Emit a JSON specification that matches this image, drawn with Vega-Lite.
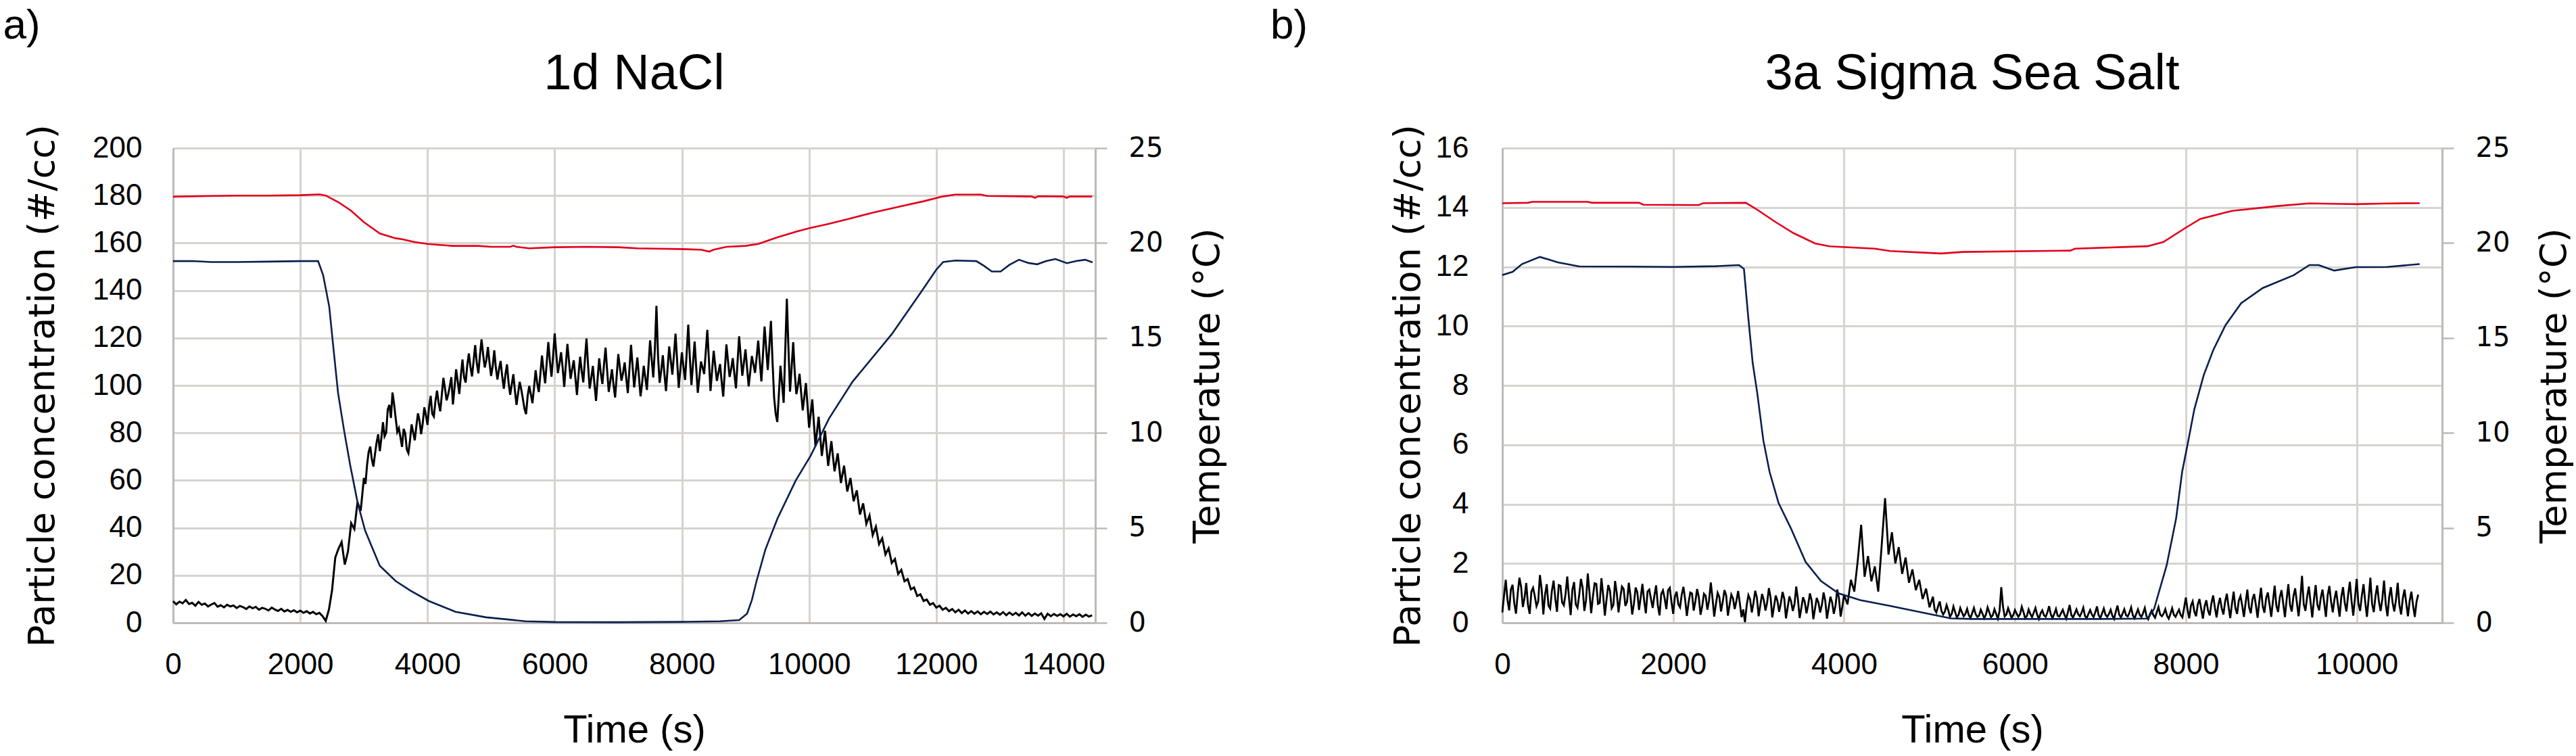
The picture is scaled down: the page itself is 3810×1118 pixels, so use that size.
{
  "$schema": "https://vega.github.io/schema/vega-lite/v6.json",
  "background": "white",
  "padding": {"left": 4, "top": 6, "right": 4, "bottom": 4},
  "spacing": 65,
  "config": {
    "view": {"stroke": null},
    "font": "Liberation Sans",
    "title": {"font": "Liberation Sans", "fontWeight": "normal", "color": "black"},
    "axis": {
      "labelFont": "Liberation Sans",
      "labelColor": "black",
      "titleFont": "Liberation Sans",
      "titleFontWeight": "normal",
      "titleColor": "black",
      "gridColor": "#d6d3d0",
      "gridWidth": 3,
      "domainColor": "#bdbab7",
      "domainWidth": 3,
      "tickColor": "#bdbab7",
      "tickWidth": 2.5
    }
  },
  "datasets": {
    "aP": [
      {"t":0,"c":9.1},{"t":50,"c":7.8},{"t":100,"c":8.9},{"t":150,"c":8.2},{"t":200,"c":9.6},{"t":250,"c":7.9},{"t":300,"c":8.4},{"t":350,"c":7.2},{"t":400,"c":8.8},{"t":450,"c":7.6},
      {"t":500,"c":8.1},{"t":550,"c":6.9},{"t":600,"c":7.7},{"t":650,"c":8.3},{"t":700,"c":6.8},{"t":750,"c":7.4},{"t":800,"c":6.5},{"t":850,"c":7.6},{"t":900,"c":6.9},{"t":950,"c":7.3},
      {"t":1000,"c":6.2},{"t":1050,"c":7.1},{"t":1100,"c":6.6},{"t":1150,"c":5.8},{"t":1200,"c":6.9},{"t":1250,"c":6.1},{"t":1300,"c":6.7},{"t":1350,"c":5.5},{"t":1400,"c":6.3},{"t":1450,"c":5.9},
      {"t":1500,"c":5.2},{"t":1550,"c":6.4},{"t":1600,"c":5.6},{"t":1650,"c":5.0},{"t":1700,"c":5.9},{"t":1750,"c":4.8},{"t":1800,"c":5.4},{"t":1850,"c":4.6},{"t":1900,"c":5.3},{"t":1950,"c":4.4},
      {"t":2000,"c":5.1},{"t":2050,"c":4.2},{"t":2100,"c":4.9},{"t":2150,"c":3.9},{"t":2200,"c":4.6},{"t":2250,"c":3.6},{"t":2300,"c":4.2},{"t":2350,"c":2.8},{"t":2400,"c":0.8},{"t":2450,"c":5.5},
      {"t":2500,"c":13.8},{"t":2550,"c":27.5},{"t":2600,"c":31.2},{"t":2650,"c":34.0},{"t":2700,"c":24.5},{"t":2750,"c":30.1},{"t":2800,"c":42.0},{"t":2850,"c":39.5},{"t":2900,"c":50.8},{"t":2950,"c":47.2},
      {"t":3000,"c":61.0},{"t":3050,"c":66.5},{"t":3100,"c":74.2},{"t":3150,"c":65.8},{"t":3200,"c":76.0},{"t":3250,"c":72.3},{"t":3300,"c":84.5},{"t":3350,"c":80.1},{"t":3400,"c":91.8},{"t":3450,"c":97.0},
      {"t":3500,"c":86.2},{"t":3550,"c":82.0},{"t":3600,"c":74.1},{"t":3650,"c":79.8},{"t":3700,"c":71.5},{"t":3750,"c":83.6},{"t":3800,"c":76.9},{"t":3850,"c":88.2},{"t":3900,"c":79.5},{"t":3950,"c":90.8},
      {"t":4000,"c":83.4},{"t":4050,"c":95.6},{"t":4100,"c":86.9},{"t":4150,"c":97.8},{"t":4200,"c":89.1},{"t":4250,"c":103.2},{"t":4300,"c":93.7},{"t":4350,"c":99.5},{"t":4400,"c":92.0},{"t":4450,"c":106.8},
      {"t":4500,"c":96.4},{"t":4550,"c":110.9},{"t":4600,"c":101.2},{"t":4650,"c":113.5},{"t":4700,"c":103.8},{"t":4750,"c":117.0},{"t":4800,"c":105.1},{"t":4850,"c":119.4},{"t":4900,"c":107.6},{"t":4950,"c":116.2},
      {"t":5000,"c":104.0},{"t":5050,"c":114.8},{"t":5100,"c":102.5},{"t":5150,"c":110.3},{"t":5200,"c":98.6},{"t":5250,"c":108.9},{"t":5300,"c":96.1},{"t":5350,"c":104.7},{"t":5400,"c":91.8},{"t":5450,"c":101.5},
      {"t":5500,"c":94.3},{"t":5550,"c":87.9},{"t":5600,"c":99.8},{"t":5650,"c":92.5},{"t":5700,"c":106.4},{"t":5750,"c":97.2},{"t":5800,"c":112.6},{"t":5850,"c":100.9},{"t":5900,"c":118.3},{"t":5950,"c":103.7},
      {"t":6000,"c":121.9},{"t":6050,"c":105.2},{"t":6100,"c":114.0},{"t":6150,"c":99.4},{"t":6200,"c":117.5},{"t":6250,"c":102.8},{"t":6300,"c":110.6},{"t":6350,"c":96.0},{"t":6400,"c":112.1},{"t":6450,"c":101.3},
      {"t":6500,"c":119.8},{"t":6550,"c":98.7},{"t":6600,"c":108.2},{"t":6650,"c":93.5},{"t":6700,"c":111.4},{"t":6750,"c":100.6},{"t":6800,"c":115.9},{"t":6850,"c":97.3},{"t":6900,"c":106.8},{"t":6950,"c":94.9},
      {"t":7000,"c":113.2},{"t":7050,"c":102.0},{"t":7100,"c":109.7},{"t":7150,"c":96.8},{"t":7200,"c":117.1},{"t":7250,"c":99.2},{"t":7300,"c":111.8},{"t":7350,"c":95.4},{"t":7400,"c":108.3},{"t":7450,"c":98.1},
      {"t":7500,"c":119.0},{"t":7550,"c":103.4},{"t":7600,"c":133.5},{"t":7650,"c":101.1},{"t":7700,"c":112.7},{"t":7750,"c":97.6},{"t":7800,"c":116.4},{"t":7850,"c":104.5},{"t":7900,"c":121.8},{"t":7950,"c":99.0},
      {"t":8000,"c":113.9},{"t":8050,"c":102.3},{"t":8100,"c":125.6},{"t":8150,"c":100.2},{"t":8200,"c":118.5},{"t":8250,"c":96.9},{"t":8300,"c":110.1},{"t":8350,"c":104.8},{"t":8400,"c":123.4},{"t":8450,"c":97.7},
      {"t":8500,"c":114.6},{"t":8550,"c":101.9},{"t":8600,"c":109.0},{"t":8650,"c":95.3},{"t":8700,"c":117.3},{"t":8750,"c":103.6},{"t":8800,"c":111.5},{"t":8850,"c":98.8},{"t":8900,"c":120.7},{"t":8950,"c":104.1},
      {"t":9000,"c":115.2},{"t":9050,"c":99.6},{"t":9100,"c":112.4},{"t":9150,"c":105.3},{"t":9200,"c":118.9},{"t":9250,"c":101.7},{"t":9300,"c":124.8},{"t":9350,"c":106.5},{"t":9400,"c":127.2},{"t":9450,"c":95.0},
      {"t":9500,"c":84.6},{"t":9550,"c":108.3},{"t":9600,"c":92.7},{"t":9650,"c":136.5},{"t":9700,"c":97.4},{"t":9750,"c":118.2},{"t":9800,"c":96.3},{"t":9850,"c":104.9},{"t":9900,"c":89.5},{"t":9950,"c":101.0},
      {"t":10000,"c":82.2},{"t":10050,"c":94.1},{"t":10100,"c":74.5},{"t":10150,"c":86.8},{"t":10200,"c":70.3},{"t":10250,"c":80.9},{"t":10300,"c":66.1},{"t":10350,"c":76.5},{"t":10400,"c":63.8},{"t":10450,"c":71.4},
      {"t":10500,"c":58.9},{"t":10550,"c":66.2},{"t":10600,"c":55.3},{"t":10650,"c":61.0},{"t":10700,"c":51.2},{"t":10750,"c":55.8},{"t":10800,"c":45.6},{"t":10850,"c":50.3},{"t":10900,"c":41.7},{"t":10950,"c":45.2},
      {"t":11000,"c":36.9},{"t":11050,"c":40.5},{"t":11100,"c":33.1},{"t":11150,"c":35.6},{"t":11200,"c":28.8},{"t":11250,"c":31.4},{"t":11300,"c":25.2},{"t":11350,"c":26.9},{"t":11400,"c":20.6},{"t":11450,"c":22.3},
      {"t":11500,"c":17.5},{"t":11550,"c":18.4},{"t":11600,"c":14.1},{"t":11650,"c":14.9},{"t":11700,"c":11.3},{"t":11750,"c":12.0},{"t":11800,"c":9.2},{"t":11850,"c":9.8},{"t":11900,"c":7.6},{"t":11950,"c":8.3},
      {"t":12000,"c":6.4},{"t":12050,"c":7.2},{"t":12100,"c":5.5},{"t":12150,"c":6.3},{"t":12200,"c":4.9},{"t":12250,"c":5.8},{"t":12300,"c":4.4},{"t":12350,"c":5.5},{"t":12400,"c":4.1},{"t":12450,"c":5.2},
      {"t":12500,"c":3.9},{"t":12550,"c":4.9},{"t":12600,"c":3.8},{"t":12650,"c":4.8},{"t":12700,"c":3.6},{"t":12750,"c":4.6},{"t":12800,"c":3.7},{"t":12850,"c":4.7},{"t":12900,"c":3.5},{"t":12950,"c":4.4},
      {"t":13000,"c":3.4},{"t":13050,"c":4.5},{"t":13100,"c":3.2},{"t":13150,"c":4.3},{"t":13200,"c":3.3},{"t":13250,"c":4.2},{"t":13300,"c":3.1},{"t":13350,"c":4.4},{"t":13400,"c":3.0},{"t":13450,"c":4.1},
      {"t":13500,"c":2.9},{"t":13550,"c":3.9},{"t":13600,"c":3.0},{"t":13650,"c":4.0},{"t":13700,"c":1.6},{"t":13750,"c":3.8},{"t":13800,"c":2.8},{"t":13850,"c":3.7},{"t":13900,"c":2.9},{"t":13950,"c":3.6},
      {"t":14000,"c":2.7},{"t":14050,"c":3.8},{"t":14100,"c":2.6},{"t":14150,"c":3.5},{"t":14200,"c":2.8},{"t":14250,"c":3.6},{"t":14300,"c":2.5},{"t":14350,"c":3.4},{"t":14400,"c":2.6},{"t":14450,"c":3.2},
      {"t":3025,"c":58.5},{"t":3075,"c":72.0},{"t":3125,"c":68.9},{"t":3175,"c":71.2},{"t":3225,"c":79.4},{"t":3275,"c":77.8},{"t":3325,"c":78.6},{"t":3375,"c":89.9},{"t":3425,"c":86.3},{"t":3475,"c":92.1},
      {"t":3525,"c":80.4},{"t":3575,"c":78.2},{"t":3625,"c":81.7},{"t":3675,"c":73.0},{"t":3725,"c":76.8},{"t":3775,"c":80.2},{"t":3825,"c":82.9},{"t":3875,"c":85.1},{"t":3925,"c":84.0},{"t":3975,"c":87.5},
      {"t":4025,"c":90.9},{"t":4075,"c":88.0},{"t":4125,"c":93.3},{"t":4175,"c":92.6},{"t":4225,"c":96.0},{"t":4275,"c":98.7},{"t":4325,"c":96.2},{"t":4375,"c":103.5},{"t":4425,"c":99.0},{"t":4475,"c":101.8},
      {"t":4525,"c":104.2},{"t":4575,"c":103.5},{"t":4625,"c":108.4},{"t":4675,"c":107.9},{"t":4725,"c":110.3},{"t":4775,"c":109.5},{"t":4825,"c":112.8},{"t":4875,"c":113.0},{"t":4925,"c":110.6},{"t":4975,"c":109.7},
      {"t":5025,"c":108.1},{"t":5075,"c":107.4},{"t":5125,"c":106.9},{"t":5175,"c":103.8},{"t":5225,"c":104.5},{"t":5275,"c":101.2},{"t":5325,"c":100.4},{"t":5375,"c":97.6},{"t":5425,"c":96.8},{"t":5475,"c":98.2},
      {"t":5525,"c":90.2},{"t":5575,"c":95.6},{"t":5625,"c":96.3},{"t":5675,"c":99.1},{"t":5725,"c":101.0},{"t":5775,"c":104.8},{"t":5825,"c":106.2},{"t":5875,"c":109.6},{"t":5925,"c":110.1},{"t":5975,"c":112.4},
      {"t":6025,"c":113.3},{"t":6075,"c":109.1},{"t":6125,"c":107.5},{"t":6175,"c":108.6},{"t":6225,"c":110.2},{"t":6275,"c":106.9},{"t":6325,"c":103.4},{"t":6375,"c":104.7},{"t":6425,"c":106.0},{"t":6475,"c":110.8},
      {"t":6525,"c":108.4},{"t":6575,"c":103.1},{"t":6625,"c":100.6},{"t":6675,"c":102.9},{"t":6725,"c":105.2},{"t":6775,"c":108.7},{"t":6825,"c":106.1},{"t":6875,"c":101.9},{"t":6925,"c":100.3},{"t":6975,"c":104.0},
      {"t":7025,"c":107.6},{"t":7075,"c":105.3},{"t":7125,"c":103.0},{"t":7175,"c":106.8},{"t":7225,"c":108.0},{"t":7275,"c":105.5},{"t":7325,"c":103.6},{"t":7375,"c":101.1},{"t":7425,"c":103.2},{"t":7475,"c":108.5},
      {"t":7525,"c":111.0},{"t":7575,"c":115.2},{"t":7625,"c":112.3},{"t":7675,"c":106.2},{"t":7725,"c":104.8},{"t":7775,"c":107.0},{"t":7825,"c":110.5},{"t":7875,"c":112.9},{"t":7925,"c":110.4},{"t":7975,"c":106.5},
      {"t":8025,"c":107.8},{"t":8075,"c":113.4},{"t":8125,"c":111.7},{"t":8175,"c":109.3},{"t":8225,"c":107.6},{"t":8275,"c":103.4},{"t":8325,"c":107.5},{"t":8375,"c":114.0},{"t":8425,"c":110.6},{"t":8475,"c":106.3},
      {"t":8525,"c":108.2},{"t":8575,"c":105.5},{"t":8625,"c":101.7},{"t":8675,"c":106.4},{"t":8725,"c":110.3},{"t":8775,"c":107.0},{"t":8825,"c":104.9},{"t":8875,"c":109.8},{"t":8925,"c":112.1},{"t":8975,"c":109.6},
      {"t":9025,"c":107.3},{"t":9075,"c":105.8},{"t":9125,"c":108.9},{"t":9175,"c":111.8},{"t":9225,"c":110.0},{"t":9275,"c":113.2},{"t":9325,"c":115.7},{"t":9375,"c":116.8},{"t":9425,"c":110.1},{"t":9475,"c":88.0},
      {"t":9525,"c":96.4},{"t":9575,"c":100.5},{"t":9625,"c":114.8},{"t":9675,"c":116.0},{"t":9725,"c":107.5},{"t":9775,"c":105.2},{"t":9825,"c":100.1},{"t":9875,"c":97.0},{"t":9925,"c":95.2},{"t":9975,"c":91.6}
    ],
    "aT": [
      {"s":"air","t":0,"T":22.44},{"s":"air","t":500,"T":22.47},{"s":"air","t":1000,"T":22.5},{"s":"air","t":1500,"T":22.5},{"s":"air","t":2000,"T":22.52},{"s":"air","t":2300,"T":22.56},
      {"s":"air","t":2400,"T":22.5},{"s":"air","t":2600,"T":22.15},{"s":"air","t":2800,"T":21.7},{"s":"air","t":3000,"T":21.1},{"s":"air","t":3250,"T":20.5},{"s":"air","t":3500,"T":20.25},
      {"s":"air","t":3600,"T":20.2},{"s":"air","t":3800,"T":20.05},{"s":"air","t":4000,"T":19.95},{"s":"air","t":4200,"T":19.9},{"s":"air","t":4400,"T":19.85},{"s":"air","t":4800,"T":19.85},
      {"s":"air","t":5000,"T":19.8},{"s":"air","t":5300,"T":19.8},{"s":"air","t":5350,"T":19.86},{"s":"air","t":5400,"T":19.8},{"s":"air","t":5600,"T":19.72},{"s":"air","t":6000,"T":19.78},
      {"s":"air","t":6500,"T":19.8},{"s":"air","t":7000,"T":19.78},{"s":"air","t":7300,"T":19.72},{"s":"air","t":7600,"T":19.7},{"s":"air","t":8000,"T":19.68},{"s":"air","t":8300,"T":19.65},
      {"s":"air","t":8430,"T":19.55},{"s":"air","t":8500,"T":19.65},{"s":"air","t":8700,"T":19.8},{"s":"air","t":9000,"T":19.85},{"s":"air","t":9200,"T":19.95},{"s":"air","t":9500,"T":20.3},
      {"s":"air","t":9800,"T":20.6},{"s":"air","t":10000,"T":20.78},{"s":"air","t":10300,"T":21.0},{"s":"air","t":10600,"T":21.25},{"s":"air","t":11000,"T":21.6},{"s":"air","t":11400,"T":21.9},
      {"s":"air","t":11800,"T":22.2},{"s":"air","t":12100,"T":22.45},{"s":"air","t":12300,"T":22.55},{"s":"air","t":12700,"T":22.55},{"s":"air","t":12800,"T":22.48},{"s":"air","t":13500,"T":22.45},
      {"s":"air","t":13550,"T":22.38},{"s":"air","t":13600,"T":22.46},{"s":"air","t":14000,"T":22.45},{"s":"air","t":14050,"T":22.38},{"s":"air","t":14100,"T":22.45},{"s":"air","t":14450,"T":22.45},
      {"s":"cold","t":0,"T":19.05},{"s":"cold","t":300,"T":19.05},{"s":"cold","t":600,"T":19.0},{"s":"cold","t":1000,"T":19.0},{"s":"cold","t":1500,"T":19.02},{"s":"cold","t":2000,"T":19.05},
      {"s":"cold","t":2280,"T":19.05},{"s":"cold","t":2360,"T":18.3},{"s":"cold","t":2455,"T":16.65},{"s":"cold","t":2520,"T":14.5},{"s":"cold","t":2594,"T":12.1},{"s":"cold","t":2690,"T":10.1},
      {"s":"cold","t":2785,"T":8.3},{"s":"cold","t":2903,"T":6.3},{"s":"cold","t":3020,"T":4.85},{"s":"cold","t":3250,"T":3.0},{"s":"cold","t":3500,"T":2.2},{"s":"cold","t":3730,"T":1.7},
      {"s":"cold","t":4020,"T":1.15},{"s":"cold","t":4440,"T":0.58},{"s":"cold","t":4920,"T":0.29},{"s":"cold","t":5540,"T":0.08},{"s":"cold","t":6000,"T":0.04},{"s":"cold","t":7000,"T":0.03},
      {"s":"cold","t":8000,"T":0.05},{"s":"cold","t":8600,"T":0.08},{"s":"cold","t":8900,"T":0.14},{"s":"cold","t":9025,"T":0.48},{"s":"cold","t":9100,"T":1.2},{"s":"cold","t":9174,"T":2.2},
      {"s":"cold","t":9312,"T":3.85},{"s":"cold","t":9504,"T":5.5},{"s":"cold","t":9791,"T":7.5},{"s":"cold","t":10025,"T":8.8},{"s":"cold","t":10312,"T":10.75},{"s":"cold","t":10684,"T":12.7},
      {"s":"cold","t":11300,"T":15.2},{"s":"cold","t":11778,"T":17.5},{"s":"cold","t":12000,"T":18.6},{"s":"cold","t":12108,"T":19.0},{"s":"cold","t":12300,"T":19.08},{"s":"cold","t":12629,"T":19.05},
      {"s":"cold","t":12750,"T":18.8},{"s":"cold","t":12873,"T":18.5},{"s":"cold","t":13012,"T":18.5},{"s":"cold","t":13150,"T":18.85},{"s":"cold","t":13299,"T":19.12},{"s":"cold","t":13450,"T":18.95},
      {"s":"cold","t":13586,"T":18.88},{"s":"cold","t":13730,"T":19.05},{"s":"cold","t":13873,"T":19.16},{"s":"cold","t":14054,"T":18.94},{"s":"cold","t":14200,"T":19.05},{"s":"cold","t":14340,"T":19.12},
      {"s":"cold","t":14457,"T":18.98}
    ],
    "bP": [
      {"t":0,"c":0.35},{"t":40,"c":1.45},{"t":80,"c":0.42},{"t":120,"c":1.28},{"t":160,"c":0.31},{"t":200,"c":1.52},{"t":240,"c":0.53},{"t":280,"c":1.34},{"t":320,"c":0.3},{"t":360,"c":1.18},
      {"t":400,"c":0.56},{"t":440,"c":1.61},{"t":480,"c":0.28},{"t":520,"c":1.3},{"t":560,"c":0.48},{"t":600,"c":1.42},{"t":640,"c":0.37},{"t":680,"c":1.25},{"t":720,"c":0.59},{"t":760,"c":1.56},
      {"t":800,"c":0.26},{"t":840,"c":1.37},{"t":880,"c":0.51},{"t":920,"c":1.48},{"t":960,"c":0.4},{"t":1000,"c":1.66},{"t":1040,"c":0.32},{"t":1080,"c":1.33},{"t":1120,"c":0.64},{"t":1160,"c":1.5},
      {"t":1200,"c":0.24},{"t":1240,"c":1.27},{"t":1280,"c":0.49},{"t":1320,"c":1.41},{"t":1360,"c":0.35},{"t":1400,"c":1.22},{"t":1440,"c":0.57},{"t":1480,"c":1.35},{"t":1520,"c":0.28},{"t":1560,"c":1.19},
      {"t":1600,"c":0.43},{"t":1640,"c":1.31},{"t":1680,"c":0.32},{"t":1720,"c":1.12},{"t":1760,"c":0.5},{"t":1800,"c":1.26},{"t":1840,"c":0.25},{"t":1880,"c":1.09},{"t":1920,"c":0.46},{"t":1960,"c":1.18},
      {"t":2000,"c":0.3},{"t":2040,"c":1.05},{"t":2080,"c":0.52},{"t":2120,"c":1.21},{"t":2160,"c":0.23},{"t":2200,"c":1.02},{"t":2240,"c":0.41},{"t":2280,"c":1.14},{"t":2320,"c":0.27},{"t":2360,"c":0.98},
      {"t":2400,"c":0.44},{"t":2440,"c":1.36},{"t":2480,"c":0.21},{"t":2520,"c":1.01},{"t":2560,"c":0.38},{"t":2600,"c":1.1},{"t":2640,"c":0.24},{"t":2680,"c":0.95},{"t":2720,"c":0.46},{"t":2760,"c":1.07},
      {"t":2800,"c":0.19},{"t":2840,"c":0.02},{"t":2880,"c":0.93},{"t":2920,"c":0.35},{"t":2960,"c":1.08},{"t":3000,"c":0.22},{"t":3040,"c":0.97},{"t":3080,"c":0.41},{"t":3120,"c":1.17},{"t":3160,"c":0.18},
      {"t":3200,"c":0.92},{"t":3240,"c":0.37},{"t":3280,"c":1.04},{"t":3320,"c":0.15},{"t":3360,"c":0.89},{"t":3400,"c":0.4},{"t":3440,"c":1.22},{"t":3480,"c":0.16},{"t":3520,"c":0.86},{"t":3560,"c":0.32},
      {"t":3600,"c":0.99},{"t":3640,"c":0.12},{"t":3680,"c":0.84},{"t":3720,"c":0.35},{"t":3760,"c":1.02},{"t":3800,"c":0.14},{"t":3840,"c":0.88},{"t":3880,"c":0.3},{"t":3920,"c":1.12},{"t":3960,"c":0.21},
      {"t":4000,"c":0.95},{"t":4040,"c":0.62},{"t":4080,"c":1.45},{"t":4120,"c":1.05},{"t":4160,"c":2.1},{"t":4200,"c":3.3},{"t":4240,"c":1.55},{"t":4280,"c":2.25},{"t":4320,"c":1.4},{"t":4360,"c":1.9},
      {"t":4400,"c":1.05},{"t":4440,"c":2.6},{"t":4480,"c":4.2},{"t":4520,"c":2.3},{"t":4560,"c":3.05},{"t":4600,"c":2.0},{"t":4640,"c":2.55},{"t":4680,"c":1.65},{"t":4720,"c":2.2},{"t":4760,"c":1.35},
      {"t":4800,"c":1.8},{"t":4840,"c":1.1},{"t":4880,"c":1.45},{"t":4920,"c":0.8},{"t":4960,"c":1.15},{"t":5000,"c":0.52},{"t":5040,"c":0.88},{"t":5080,"c":0.35},{"t":5120,"c":0.72},{"t":5160,"c":0.28},
      {"t":5200,"c":0.6},{"t":5240,"c":0.2},{"t":5280,"c":0.55},{"t":5320,"c":0.18},{"t":5360,"c":0.5},{"t":5400,"c":0.22},{"t":5440,"c":0.47},{"t":5480,"c":0.16},{"t":5520,"c":0.5},{"t":5560,"c":0.2},
      {"t":5600,"c":0.44},{"t":5640,"c":0.15},{"t":5680,"c":0.52},{"t":5720,"c":0.19},{"t":5760,"c":0.46},{"t":5800,"c":0.14},{"t":5840,"c":1.2},{"t":5880,"c":0.21},{"t":5920,"c":0.49},{"t":5960,"c":0.17},
      {"t":6000,"c":0.43},{"t":6040,"c":0.2},{"t":6080,"c":0.54},{"t":6120,"c":0.15},{"t":6160,"c":0.45},{"t":6200,"c":0.19},{"t":6240,"c":0.5},{"t":6280,"c":0.13},{"t":6320,"c":0.42},{"t":6360,"c":0.2},
      {"t":6400,"c":0.56},{"t":6440,"c":0.16},{"t":6480,"c":0.47},{"t":6520,"c":0.21},{"t":6560,"c":0.44},{"t":6600,"c":0.14},{"t":6640,"c":0.6},{"t":6680,"c":0.18},{"t":6720,"c":0.45},{"t":6760,"c":0.22},
      {"t":6800,"c":0.51},{"t":6840,"c":0.15},{"t":6880,"c":0.43},{"t":6920,"c":0.19},{"t":6960,"c":0.55},{"t":7000,"c":0.16},{"t":7040,"c":0.48},{"t":7080,"c":0.2},{"t":7120,"c":0.44},{"t":7160,"c":0.13},
      {"t":7200,"c":0.58},{"t":7240,"c":0.18},{"t":7280,"c":0.46},{"t":7320,"c":0.21},{"t":7360,"c":0.52},{"t":7400,"c":0.15},{"t":7440,"c":0.45},{"t":7480,"c":0.19},{"t":7520,"c":0.5},{"t":7560,"c":0.12},
      {"t":7600,"c":0.41},{"t":7640,"c":0.17},{"t":7680,"c":0.53},{"t":7720,"c":0.22},{"t":7760,"c":0.46},{"t":7800,"c":0.14},{"t":7840,"c":0.49},{"t":7880,"c":0.2},{"t":7920,"c":0.44},{"t":7960,"c":0.18},
      {"t":8000,"c":0.85},{"t":8040,"c":0.15},{"t":8080,"c":0.72},{"t":8120,"c":0.22},{"t":8160,"c":0.8},{"t":8200,"c":0.14},{"t":8240,"c":0.76},{"t":8280,"c":0.25},{"t":8320,"c":0.92},{"t":8360,"c":0.18},
      {"t":8400,"c":0.84},{"t":8440,"c":0.28},{"t":8480,"c":0.98},{"t":8520,"c":0.16},{"t":8560,"c":1.05},{"t":8600,"c":0.3},{"t":8640,"c":0.9},{"t":8680,"c":0.2},{"t":8720,"c":1.12},{"t":8760,"c":0.32},
      {"t":8800,"c":0.97},{"t":8840,"c":0.17},{"t":8880,"c":1.18},{"t":8920,"c":0.34},{"t":8960,"c":1.02},{"t":9000,"c":0.2},{"t":9040,"c":1.25},{"t":9080,"c":0.36},{"t":9120,"c":1.1},{"t":9160,"c":0.19},
      {"t":9200,"c":1.3},{"t":9240,"c":0.38},{"t":9280,"c":1.16},{"t":9320,"c":0.22},{"t":9360,"c":1.58},{"t":9400,"c":0.4},{"t":9440,"c":1.22},{"t":9480,"c":0.18},{"t":9520,"c":1.27},{"t":9560,"c":0.42},
      {"t":9600,"c":1.12},{"t":9640,"c":0.2},{"t":9680,"c":1.24},{"t":9720,"c":0.35},{"t":9760,"c":1.08},{"t":9800,"c":0.21},{"t":9840,"c":1.2},{"t":9880,"c":0.38},{"t":9920,"c":1.38},{"t":9960,"c":0.24},
      {"t":10000,"c":1.48},{"t":10040,"c":0.4},{"t":10080,"c":1.3},{"t":10120,"c":0.2},{"t":10160,"c":1.52},{"t":10200,"c":0.36},{"t":10240,"c":1.26},{"t":10280,"c":0.4},{"t":10320,"c":1.42},{"t":10360,"c":0.22},
      {"t":10400,"c":1.2},{"t":10440,"c":0.38},{"t":10480,"c":1.35},{"t":10520,"c":0.28},{"t":10560,"c":1.12},{"t":10600,"c":0.22},{"t":10640,"c":1.05},{"t":10680,"c":0.2},{"t":10720,"c":0.95},
      {"t":20,"c":0.92},{"t":60,"c":0.78},{"t":100,"c":1.12},{"t":140,"c":0.66},{"t":180,"c":0.98},{"t":220,"c":1.21},{"t":260,"c":0.84},{"t":300,"c":0.61},{"t":340,"c":1.05},{"t":380,"c":0.9},
      {"t":420,"c":0.72},{"t":460,"c":1.15},{"t":500,"c":0.95},{"t":540,"c":0.58},{"t":580,"c":1.08},{"t":620,"c":0.81},{"t":660,"c":1.27},{"t":700,"c":0.69},{"t":740,"c":0.97},{"t":780,"c":0.85},
      {"t":820,"c":1.11},{"t":860,"c":0.62},{"t":900,"c":0.94},{"t":940,"c":1.18},{"t":980,"c":0.76},{"t":1020,"c":1.02},{"t":1060,"c":0.88},{"t":1100,"c":1.31},{"t":1140,"c":0.67},{"t":1180,"c":0.93},
      {"t":1220,"c":0.79},{"t":1260,"c":1.08},{"t":1300,"c":0.6},{"t":1340,"c":0.99},{"t":1380,"c":0.83},{"t":1420,"c":1.14},{"t":1460,"c":0.71},{"t":1500,"c":0.9},{"t":1540,"c":0.64},{"t":1580,"c":1.03},
      {"t":1620,"c":0.86},{"t":1660,"c":0.74},{"t":1700,"c":1.06},{"t":1740,"c":0.8},{"t":1780,"c":0.92},{"t":1820,"c":0.59},{"t":1860,"c":0.97},{"t":1900,"c":0.82},{"t":1940,"c":1.1},{"t":1980,"c":0.7},
      {"t":2020,"c":0.88},{"t":2060,"c":0.62},{"t":2100,"c":0.95},{"t":2140,"c":0.78},{"t":2180,"c":0.68},{"t":2220,"c":0.99},{"t":2260,"c":0.73},{"t":2300,"c":0.86},{"t":2340,"c":0.57},{"t":2380,"c":0.91},
      {"t":2420,"c":0.76},{"t":2460,"c":0.83},{"t":2500,"c":0.63},{"t":2540,"c":0.87},{"t":2580,"c":0.71},{"t":2620,"c":0.92},{"t":2660,"c":0.6},{"t":2700,"c":0.82},{"t":2740,"c":0.74},{"t":2780,"c":0.66},
      {"t":2820,"c":0.45},{"t":2860,"c":0.58},{"t":2900,"c":0.79},{"t":2940,"c":0.68},{"t":2980,"c":0.84},{"t":3020,"c":0.6},{"t":3060,"c":0.77},{"t":3100,"c":0.69},{"t":3140,"c":0.85},{"t":3180,"c":0.55},
      {"t":3220,"c":0.74},{"t":3260,"c":0.66},{"t":3300,"c":0.81},{"t":3340,"c":0.52},{"t":3380,"c":0.72},{"t":3420,"c":0.63},{"t":3460,"c":0.79},{"t":3500,"c":0.5},{"t":3540,"c":0.7},{"t":3580,"c":0.61},
      {"t":3620,"c":0.76},{"t":3660,"c":0.48},{"t":3700,"c":0.68},{"t":3740,"c":0.6},{"t":3780,"c":0.74},{"t":3820,"c":0.51},{"t":3860,"c":0.69},{"t":3900,"c":0.58},{"t":3940,"c":0.83},{"t":3980,"c":0.55},
      {"t":5020,"c":0.7},{"t":5060,"c":0.45},{"t":5100,"c":0.55},{"t":5140,"c":0.4},{"t":5180,"c":0.38},{"t":5220,"c":0.42},{"t":5260,"c":0.3},{"t":5300,"c":0.36},{"t":5340,"c":0.27},{"t":5380,"c":0.35},
      {"t":5420,"c":0.3},{"t":5460,"c":0.26},{"t":5500,"c":0.33},{"t":5540,"c":0.29},{"t":5580,"c":0.24},{"t":5620,"c":0.31},{"t":5660,"c":0.27},{"t":5700,"c":0.35},{"t":5740,"c":0.25},{"t":5780,"c":0.3},
      {"t":5820,"c":0.4},{"t":5860,"c":0.55},{"t":5900,"c":0.28},{"t":5940,"c":0.33},{"t":5980,"c":0.26},{"t":6020,"c":0.31},{"t":6060,"c":0.29},{"t":6100,"c":0.36},{"t":6140,"c":0.23},{"t":6180,"c":0.3},
      {"t":6220,"c":0.34},{"t":6260,"c":0.27},{"t":6300,"c":0.32},{"t":6340,"c":0.25},{"t":6380,"c":0.35},{"t":6420,"c":0.28},{"t":6460,"c":0.3},{"t":6500,"c":0.24},{"t":6540,"c":0.33},{"t":6580,"c":0.27},
      {"t":6620,"c":0.36},{"t":6660,"c":0.26},{"t":6700,"c":0.31},{"t":6740,"c":0.29},{"t":6780,"c":0.34},{"t":6820,"c":0.23},{"t":6860,"c":0.3},{"t":6900,"c":0.28},{"t":6940,"c":0.35},{"t":6980,"c":0.25},
      {"t":7020,"c":0.32},{"t":7060,"c":0.27},{"t":7100,"c":0.3},{"t":7140,"c":0.24},{"t":7180,"c":0.37},{"t":7220,"c":0.28},{"t":7260,"c":0.31},{"t":7300,"c":0.26},{"t":7340,"c":0.34},{"t":7380,"c":0.25},
      {"t":7420,"c":0.3},{"t":7460,"c":0.27},{"t":7500,"c":0.33},{"t":7540,"c":0.22},{"t":7580,"c":0.29},{"t":7620,"c":0.26},{"t":7660,"c":0.35},{"t":7700,"c":0.28},{"t":7740,"c":0.31},{"t":7780,"c":0.24},
      {"t":7820,"c":0.3},{"t":7860,"c":0.27},{"t":7900,"c":0.33},{"t":7940,"c":0.26},{"t":7980,"c":0.5},
      {"t":8020,"c":0.45},{"t":8060,"c":0.58},{"t":8100,"c":0.38},{"t":8140,"c":0.62},{"t":8180,"c":0.47},{"t":8220,"c":0.55},{"t":8260,"c":0.41},{"t":8300,"c":0.66},{"t":8340,"c":0.52},{"t":8380,"c":0.6},
      {"t":8420,"c":0.49},{"t":8460,"c":0.71},{"t":8500,"c":0.55},{"t":8540,"c":0.64},{"t":8580,"c":0.5},{"t":8620,"c":0.75},{"t":8660,"c":0.58},{"t":8700,"c":0.68},{"t":8740,"c":0.53},{"t":8780,"c":0.79},
      {"t":8820,"c":0.6},{"t":8860,"c":0.72},{"t":8900,"c":0.56},{"t":8940,"c":0.83},{"t":8980,"c":0.62},{"t":9020,"c":0.74},{"t":9060,"c":0.57},{"t":9100,"c":0.86},{"t":9140,"c":0.65},{"t":9180,"c":0.78},
      {"t":9220,"c":0.6},{"t":9260,"c":0.9},{"t":9300,"c":0.68},{"t":9340,"c":0.81},{"t":9380,"c":0.63},{"t":9420,"c":0.88},{"t":9460,"c":0.7},{"t":9500,"c":0.79},{"t":9540,"c":0.61},{"t":9580,"c":0.85},
      {"t":9620,"c":0.66},{"t":9660,"c":0.92},{"t":9700,"c":0.72},{"t":9740,"c":0.8},{"t":9780,"c":0.62},{"t":9820,"c":0.87},{"t":9860,"c":0.68},{"t":9900,"c":0.95},{"t":9940,"c":0.73},{"t":9980,"c":0.84},
      {"t":10020,"c":0.65},{"t":10060,"c":0.91},{"t":10100,"c":0.7},{"t":10140,"c":0.82},{"t":10180,"c":0.64},{"t":10220,"c":0.9},{"t":10260,"c":0.72},{"t":10300,"c":0.8},{"t":10340,"c":0.63},{"t":10380,"c":0.86},
      {"t":10420,"c":0.68},{"t":10460,"c":0.78},{"t":10500,"c":0.6},{"t":10540,"c":0.83},{"t":10580,"c":0.66},{"t":10620,"c":0.74},{"t":10660,"c":0.58},{"t":10700,"c":0.7}
    ],
    "bT": [
      {"s":"air","t":0,"T":22.1},{"s":"air","t":300,"T":22.12},{"s":"air","t":350,"T":22.17},{"s":"air","t":1000,"T":22.17},{"s":"air","t":1050,"T":22.12},{"s":"air","t":1600,"T":22.12},
      {"s":"air","t":1650,"T":22.02},{"s":"air","t":2300,"T":22.0},{"s":"air","t":2350,"T":22.1},{"s":"air","t":2850,"T":22.12},{"s":"air","t":2985,"T":21.75},{"s":"air","t":3200,"T":21.1},
      {"s":"air","t":3405,"T":20.53},{"s":"air","t":3660,"T":19.98},{"s":"air","t":3830,"T":19.83},{"s":"air","t":4360,"T":19.7},{"s":"air","t":4540,"T":19.58},{"s":"air","t":5140,"T":19.45},
      {"s":"air","t":5380,"T":19.53},{"s":"air","t":6650,"T":19.6},{"s":"air","t":6700,"T":19.7},{"s":"air","t":7550,"T":19.83},{"s":"air","t":7735,"T":20.05},{"s":"air","t":7990,"T":20.78},
      {"s":"air","t":8170,"T":21.27},{"s":"air","t":8535,"T":21.69},{"s":"air","t":9080,"T":21.95},{"s":"air","t":9445,"T":22.09},{"s":"air","t":9800,"T":22.06},{"s":"air","t":10000,"T":22.05},
      {"s":"air","t":10300,"T":22.08},{"s":"air","t":10737,"T":22.1},
      {"s":"cold","t":0,"T":18.31},{"s":"cold","t":120,"T":18.48},{"s":"cold","t":230,"T":18.89},{"s":"cold","t":440,"T":19.27},{"s":"cold","t":650,"T":18.98},{"s":"cold","t":900,"T":18.77},
      {"s":"cold","t":1500,"T":18.76},{"s":"cold","t":2000,"T":18.74},{"s":"cold","t":2500,"T":18.78},{"s":"cold","t":2770,"T":18.84},{"s":"cold","t":2828,"T":18.64},{"s":"cold","t":2880,"T":16.02},
      {"s":"cold","t":2930,"T":13.7},{"s":"cold","t":2985,"T":12.06},{"s":"cold","t":3055,"T":9.61},{"s":"cold","t":3128,"T":7.95},{"s":"cold","t":3233,"T":6.31},{"s":"cold","t":3375,"T":5.0},
      {"s":"cold","t":3550,"T":3.2},{"s":"cold","t":3730,"T":2.2},{"s":"cold","t":3937,"T":1.55},{"s":"cold","t":4190,"T":1.19},{"s":"cold","t":4537,"T":0.89},{"s":"cold","t":4893,"T":0.56},
      {"s":"cold","t":5250,"T":0.23},{"s":"cold","t":5500,"T":0.2},{"s":"cold","t":6000,"T":0.2},{"s":"cold","t":7000,"T":0.2},{"s":"cold","t":7553,"T":0.22},{"s":"cold","t":7628,"T":0.72},
      {"s":"cold","t":7776,"T":3.03},{"s":"cold","t":7886,"T":5.48},{"s":"cold","t":7957,"T":7.95},{"s":"cold","t":8030,"T":9.61},{"s":"cold","t":8100,"T":11.25},{"s":"cold","t":8210,"T":13.05},
      {"s":"cold","t":8321,"T":14.36},{"s":"cold","t":8464,"T":15.67},{"s":"cold","t":8647,"T":16.83},{"s":"cold","t":8900,"T":17.63},{"s":"cold","t":9264,"T":18.31},{"s":"cold","t":9446,"T":18.84},
      {"s":"cold","t":9555,"T":18.84},{"s":"cold","t":9737,"T":18.55},{"s":"cold","t":9992,"T":18.73},{"s":"cold","t":10356,"T":18.74},{"s":"cold","t":10737,"T":18.89}
    ]
  },
  "hconcat": [
    {
      "title": {"text": "a)", "anchor": "start", "fontSize": 62, "dx": -32, "offset": 3},
      "vconcat": [
        {
          "width": 1364,
          "height": 702,
          "title": {"text": "1d NaCl", "fontSize": 74, "offset": 36},
          "encoding": {
            "x": {
              "field": "t", "type": "quantitative",
              "scale": {"domain": [0, 14500], "nice": false},
              "axis": {"title": "Time (s)", "values": [0, 2000, 4000, 6000, 8000, 10000, 12000, 14000], "format": "d", "labelFontSize": 44, "labelPadding": 40, "ticks": false, "titleFontSize": 58, "titlePadding": 46, "grid": true, "labelFlush": false}
            }
          },
          "layer": [
            {
              "data": {"name": "aP"},
              "mark": {"type": "line", "color": "black", "strokeWidth": 3},
              "encoding": {
                "y": {
                  "field": "c", "type": "quantitative",
                  "scale": {"domain": [0, 200], "nice": false},
                  "axis": {"orient": "left", "title": "Particle concentration (#/cc)", "values": [0, 20, 40, 60, 80, 100, 120, 140, 160, 180, 200], "labelFontSize": 44, "labelPadding": 46, "ticks": false, "titleFont": "DejaVu Sans", "titleFontSize": 54, "titlePadding": 46, "grid": true}
                }
              }
            },
            {
              "data": {"name": "aT"},
              "mark": {"type": "line", "strokeWidth": 2.6},
              "encoding": {
                "y": {
                  "field": "T", "type": "quantitative",
                  "scale": {"domain": [0, 25], "nice": false},
                  "axis": {"orient": "right", "title": "Temperature (°C)", "titleAngle": 270, "titleBaseline": "top", "values": [0, 5, 10, 15, 20, 25], "labelFont": "DejaVu Sans", "labelFontSize": 40, "tickSize": 17, "labelPadding": 32, "titleFont": "DejaVu Sans", "titleFontSize": 54, "titlePadding": 40, "grid": false}
                },
                "color": {"field": "s", "type": "nominal", "scale": {"domain": ["air", "cold"], "range": ["#e2001a", "#0a1f4e"]}, "legend": null}
              }
            }
          ],
          "resolve": {"scale": {"y": "independent"}}
        }
      ]
    },
    {
      "title": {"text": "b)", "anchor": "start", "fontSize": 62, "dx": -177, "offset": 3},
      "vconcat": [
        {
          "width": 1390,
          "height": 702,
          "title": {"text": "3a Sigma Sea Salt", "fontSize": 74, "offset": 36},
          "encoding": {
            "x": {
              "field": "t", "type": "quantitative",
              "scale": {"domain": [0, 11000], "nice": false},
              "axis": {"title": "Time (s)", "values": [0, 2000, 4000, 6000, 8000, 10000], "format": "d", "labelFontSize": 44, "labelPadding": 40, "ticks": false, "titleFontSize": 58, "titlePadding": 46, "grid": true, "labelFlush": false}
            }
          },
          "layer": [
            {
              "data": {"name": "bP"},
              "mark": {"type": "line", "color": "black", "strokeWidth": 2.8},
              "encoding": {
                "y": {
                  "field": "c", "type": "quantitative",
                  "scale": {"domain": [0, 16], "nice": false},
                  "axis": {"orient": "left", "title": "Particle concentration (#/cc)", "values": [0, 2, 4, 6, 8, 10, 12, 14, 16], "labelFontSize": 44, "labelPadding": 50, "ticks": false, "titleFont": "DejaVu Sans", "titleFontSize": 54, "titlePadding": 13, "grid": true}
                }
              }
            },
            {
              "data": {"name": "bT"},
              "mark": {"type": "line", "strokeWidth": 2.6},
              "encoding": {
                "y": {
                  "field": "T", "type": "quantitative",
                  "scale": {"domain": [0, 25], "nice": false},
                  "axis": {"orient": "right", "title": "Temperature (°C)", "titleAngle": 270, "titleBaseline": "top", "values": [0, 5, 10, 15, 20, 25], "labelFont": "DejaVu Sans", "labelFontSize": 40, "tickSize": 17, "labelPadding": 32, "titleFont": "DejaVu Sans", "titleFontSize": 54, "titlePadding": 40, "grid": false}
                },
                "color": {"field": "s", "type": "nominal", "scale": {"domain": ["air", "cold"], "range": ["#e2001a", "#0a1f4e"]}, "legend": null}
              }
            }
          ],
          "resolve": {"scale": {"y": "independent"}}
        }
      ]
    }
  ]
}
